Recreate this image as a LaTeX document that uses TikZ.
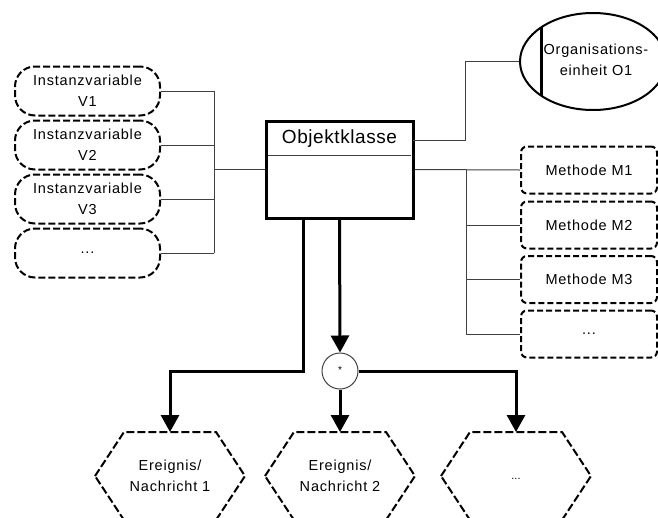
\documentclass[tikz,border=0pt]{standalone}
\usepackage{fontspec}
\setmainfont{Liberation Sans}
\usetikzlibrary{arrows.meta,shapes.geometric}

\newcommand{\smallfs}{\fontsize{14.5}{21}\selectfont\addfontfeatures{LetterSpace=5.5}}
\newcommand{\bigfs}{\fontsize{19}{23}\selectfont\addfontfeatures{LetterSpace=3}}

\tikzset{
  conn/.style={draw=black!75, line width=1pt},
  flow/.style={draw=black, line width=3pt, -{Triangle[length=17pt,width=18pt]}},
  varbox/.style={draw=black, line width=2pt, dash pattern=on 7pt off 3pt,
    rounded corners=20pt, minimum width=145pt, minimum height=49pt,
    align=center, font=\smallfs, inner sep=0pt},
  methbox/.style={draw=black, line width=2pt, dash pattern=on 6pt off 3pt,
    rounded corners=6pt, minimum width=136pt, minimum height=47pt,
    align=center, font=\smallfs, inner sep=0pt},
  classbox/.style={draw=black, line width=3pt, minimum width=147pt,
    minimum height=97pt, inner sep=0pt},
  hexline/.style={draw=black, line width=2pt, dash pattern=on 8pt off 3pt},
  hextext/.style={align=center, font=\smallfs, inner sep=0pt},
  hexa/.pic={\path[hexline] (-75,0) -- (-46,-44) -- (46,-44) -- (75,0)
    -- (46,44) -- (-46,44) -- cycle;},
}

\begin{document}
\begin{tikzpicture}[x=1pt,y=-1pt]
  \useasboundingbox (0,0) rectangle (658,517);

  % class box with its name compartment
  \node[classbox] (cls) at (339.5,169.5) {};
  \node[font=\bigfs, inner sep=0pt] (clsname) at (339.5,139) {Objektklasse};
  \draw[conn] (267.5,155) -- (411,155);

  % instance variables
  \node[varbox] (v1) at (87.5,91) {Instanzvariable\\V1};
  \node[varbox] (v2) at (87.5,145) {Instanzvariable\\V2};
  \node[varbox] (v3) at (87.5,199) {Instanzvariable\\V3};
  \node[varbox] (v4) at (87.5,253) {...};

  \coordinate (lbus) at (214,0);
  \draw[conn] (v1.east) -- (lbus |- v1.east);
  \draw[conn] (v2.east) -- (lbus |- v2.east);
  \draw[conn] (v3.east) -- (lbus |- v3.east);
  \draw[conn] (v4.east) -- (lbus |- v4.east);
  \draw[conn] (lbus |- v1.east) -- (lbus |- v4.east);
  \draw[conn] (lbus |- cls.west) -- (cls.west);

  % methods
  \node[methbox] (m1) at (589,170) {Methode M1};
  \node[methbox] (m2) at (589,225) {Methode M2};
  \node[methbox] (m3) at (589,279.5) {Methode M3};
  \node[methbox] (m4) at (589,334) {...};

  \coordinate (rbus) at (466,0);
  \draw[conn] (cls.east) -- (m1.west);
  \draw[conn] (rbus |- m1.west) -- (rbus |- m4.west);
  \draw[conn] (rbus |- m2.west) -- (m2.west);
  \draw[conn] (rbus |- m3.west) -- (m3.west);
  \draw[conn] (rbus |- m4.west) -- (m4.west);

  % organisational unit
  \node[ellipse, draw=black, line width=2pt, minimum width=146pt,
    minimum height=97pt, inner sep=0pt] (org) at (593,61.5) {};
  \node[hextext] (orgtext) at (596,60) {Organisations-\\einheit O1};
  \begin{scope}
    \clip (593,61.5) ellipse [x radius=73pt, y radius=48.5pt];
    \draw[line width=3pt] (541,0) -- (541,130);
  \end{scope}
  \coordinate (ocls) at (413,140);
  \coordinate (obend) at (465,140);
  \draw[conn] (ocls) -- (obend) |- (org.west);

  % events / messages
  \pic at (170,476) {hexa};
  \pic at (340,476) {hexa};
  \pic at (516,476) {hexa};
  \node[hextext] (e1) at (170,476) {Ereignis/\\Nachricht 1};
  \node[hextext] (e2) at (340,476) {Ereignis/\\Nachricht 2};
  \node[hextext, font=\fontsize{11}{13}\selectfont] (e3) at (516,479) {...};
  \coordinate (e1top) at (170,432);
  \coordinate (e2top) at (340,432);
  \coordinate (e3top) at (516,432);

  % connector
  \node[circle, draw=black!75, line width=1pt, minimum size=36pt,
    inner sep=0pt, font=\fontsize{10}{12}\selectfont] (star) at (340,371) {\raisebox{2pt}{*}};

  \coordinate (c1) at (303,218);
  \draw[flow] (c1) |- (star -| e1top) -- (e1top);
  \draw[flow] (cls.south) -- (star.north);
  \draw[flow] (star.south) -- (e2top);
  \draw[flow] (star.east) -| (e3top);
\end{tikzpicture}
\end{document}
